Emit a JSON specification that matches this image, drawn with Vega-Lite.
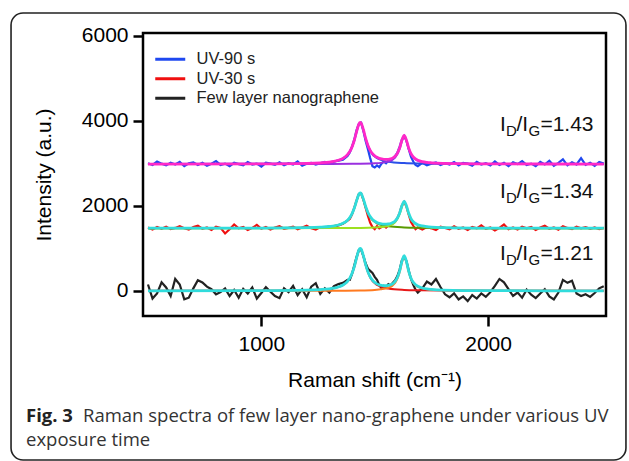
{
"$schema": "https://vega.github.io/schema/vega-lite/v6.json",
"width": 463, "height": 283,
"autosize": {"type": "none"},
"padding": {"left": 143, "top": 33, "right": 23, "bottom": 145},
"background": "white",
"config": {"view": {"stroke": "black", "strokeWidth": 2.5}},
"datasets": {
"raw": [
{"s":"UV-90 s","x":500,"y":3000},{"s":"UV-90 s","x":520,"y":2960},{"s":"UV-90 s","x":540,"y":3040},{"s":"UV-90 s","x":560,"y":2990},{"s":"UV-90 s","x":580,"y":2950},{"s":"UV-90 s","x":600,"y":3010},{"s":"UV-90 s","x":620,"y":2970},{"s":"UV-90 s","x":640,"y":3030},{"s":"UV-90 s","x":660,"y":2930},{"s":"UV-90 s","x":680,"y":3000},{"s":"UV-90 s","x":700,"y":3020},{"s":"UV-90 s","x":720,"y":2960},{"s":"UV-90 s","x":740,"y":3010},{"s":"UV-90 s","x":760,"y":2940},{"s":"UV-90 s","x":780,"y":2990},{"s":"UV-90 s","x":800,"y":3050},{"s":"UV-90 s","x":820,"y":2960},{"s":"UV-90 s","x":840,"y":2990},{"s":"UV-90 s","x":860,"y":2930},{"s":"UV-90 s","x":880,"y":3010},{"s":"UV-90 s","x":900,"y":2980},{"s":"UV-90 s","x":920,"y":2950},{"s":"UV-90 s","x":940,"y":3030},{"s":"UV-90 s","x":960,"y":2970},{"s":"UV-90 s","x":980,"y":2990},{"s":"UV-90 s","x":1000,"y":2920},{"s":"UV-90 s","x":1020,"y":3010},{"s":"UV-90 s","x":1040,"y":2990},{"s":"UV-90 s","x":1060,"y":2960},{"s":"UV-90 s","x":1080,"y":3020},{"s":"UV-90 s","x":1100,"y":2950},{"s":"UV-90 s","x":1120,"y":3000},{"s":"UV-90 s","x":1140,"y":2970},{"s":"UV-90 s","x":1160,"y":3040},{"s":"UV-90 s","x":1180,"y":2940},{"s":"UV-90 s","x":1200,"y":2990},{"s":"UV-90 s","x":1220,"y":3010},{"s":"UV-90 s","x":1240,"y":2970},{"s":"UV-90 s","x":1260,"y":3000},{"s":"UV-90 s","x":1280,"y":3030},{"s":"UV-90 s","x":1300,"y":2990},{"s":"UV-90 s","x":1320,"y":3040},{"s":"UV-90 s","x":1340,"y":3060},{"s":"UV-90 s","x":1360,"y":3080},{"s":"UV-90 s","x":1380,"y":3170},
{"s":"UV-90 s","x":1390,"y":3250},{"s":"UV-90 s","x":1400,"y":3390},{"s":"UV-90 s","x":1410,"y":3560},{"s":"UV-90 s","x":1420,"y":3780},{"s":"UV-90 s","x":1430,"y":3920},{"s":"UV-90 s","x":1440,"y":3950},{"s":"UV-90 s","x":1450,"y":3760},{"s":"UV-90 s","x":1460,"y":3520},{"s":"UV-90 s","x":1470,"y":3330},{"s":"UV-90 s","x":1480,"y":3120},{"s":"UV-90 s","x":1490,"y":2930},{"s":"UV-90 s","x":1500,"y":2900},{"s":"UV-90 s","x":1510,"y":2950},{"s":"UV-90 s","x":1520,"y":2910},{"s":"UV-90 s","x":1530,"y":2990},{"s":"UV-90 s","x":1540,"y":3040},{"s":"UV-90 s","x":1550,"y":3000},{"s":"UV-90 s","x":1560,"y":3060},{"s":"UV-90 s","x":1570,"y":3080},{"s":"UV-90 s","x":1580,"y":3110},{"s":"UV-90 s","x":1590,"y":3170},{"s":"UV-90 s","x":1600,"y":3250},{"s":"UV-90 s","x":1610,"y":3390},{"s":"UV-90 s","x":1620,"y":3560},{"s":"UV-90 s","x":1630,"y":3640},{"s":"UV-90 s","x":1640,"y":3530},{"s":"UV-90 s","x":1650,"y":3330},{"s":"UV-90 s","x":1660,"y":3150},{"s":"UV-90 s","x":1670,"y":3040},{"s":"UV-90 s","x":1680,"y":2960},{"s":"UV-90 s","x":1690,"y":2930},
{"s":"UV-90 s","x":1710,"y":3010},{"s":"UV-90 s","x":1730,"y":2950},{"s":"UV-90 s","x":1750,"y":2990},{"s":"UV-90 s","x":1770,"y":3020},{"s":"UV-90 s","x":1790,"y":2960},{"s":"UV-90 s","x":1810,"y":3000},{"s":"UV-90 s","x":1830,"y":2970},{"s":"UV-90 s","x":1850,"y":3030},{"s":"UV-90 s","x":1870,"y":2950},{"s":"UV-90 s","x":1890,"y":3010},{"s":"UV-90 s","x":1910,"y":2990},{"s":"UV-90 s","x":1930,"y":2940},{"s":"UV-90 s","x":1950,"y":3030},{"s":"UV-90 s","x":1970,"y":2970},{"s":"UV-90 s","x":1990,"y":3000},{"s":"UV-90 s","x":2010,"y":2950},{"s":"UV-90 s","x":2030,"y":3040},{"s":"UV-90 s","x":2050,"y":2960},{"s":"UV-90 s","x":2070,"y":3010},{"s":"UV-90 s","x":2090,"y":2930},{"s":"UV-90 s","x":2110,"y":3020},{"s":"UV-90 s","x":2130,"y":2980},{"s":"UV-90 s","x":2150,"y":3050},{"s":"UV-90 s","x":2170,"y":2960},{"s":"UV-90 s","x":2190,"y":2990},{"s":"UV-90 s","x":2210,"y":2930},{"s":"UV-90 s","x":2230,"y":3030},{"s":"UV-90 s","x":2250,"y":2970},{"s":"UV-90 s","x":2270,"y":3060},{"s":"UV-90 s","x":2290,"y":2940},{"s":"UV-90 s","x":2310,"y":3010},{"s":"UV-90 s","x":2330,"y":3090},{"s":"UV-90 s","x":2350,"y":2950},{"s":"UV-90 s","x":2370,"y":3020},{"s":"UV-90 s","x":2390,"y":2970},{"s":"UV-90 s","x":2410,"y":3120},{"s":"UV-90 s","x":2430,"y":2960},{"s":"UV-90 s","x":2450,"y":3010},{"s":"UV-90 s","x":2470,"y":2940},{"s":"UV-90 s","x":2490,"y":3030},{"s":"UV-90 s","x":2510,"y":2990},
{"s":"UV-30 s","x":500,"y":1490},{"s":"UV-30 s","x":520,"y":1440},{"s":"UV-30 s","x":540,"y":1500},{"s":"UV-30 s","x":560,"y":1460},{"s":"UV-30 s","x":580,"y":1510},{"s":"UV-30 s","x":600,"y":1450},{"s":"UV-30 s","x":620,"y":1480},{"s":"UV-30 s","x":640,"y":1520},{"s":"UV-30 s","x":660,"y":1470},{"s":"UV-30 s","x":680,"y":1440},{"s":"UV-30 s","x":700,"y":1500},{"s":"UV-30 s","x":720,"y":1530},{"s":"UV-30 s","x":740,"y":1460},{"s":"UV-30 s","x":760,"y":1490},{"s":"UV-30 s","x":780,"y":1430},{"s":"UV-30 s","x":800,"y":1510},{"s":"UV-30 s","x":820,"y":1480},{"s":"UV-30 s","x":840,"y":1350},{"s":"UV-30 s","x":860,"y":1450},{"s":"UV-30 s","x":880,"y":1560},{"s":"UV-30 s","x":900,"y":1470},{"s":"UV-30 s","x":920,"y":1500},{"s":"UV-30 s","x":940,"y":1430},{"s":"UV-30 s","x":960,"y":1480},{"s":"UV-30 s","x":980,"y":1550},{"s":"UV-30 s","x":1000,"y":1460},{"s":"UV-30 s","x":1020,"y":1500},{"s":"UV-30 s","x":1040,"y":1440},{"s":"UV-30 s","x":1060,"y":1490},{"s":"UV-30 s","x":1080,"y":1520},{"s":"UV-30 s","x":1100,"y":1460},{"s":"UV-30 s","x":1120,"y":1480},{"s":"UV-30 s","x":1140,"y":1510},{"s":"UV-30 s","x":1160,"y":1450},{"s":"UV-30 s","x":1180,"y":1490},{"s":"UV-30 s","x":1200,"y":1530},{"s":"UV-30 s","x":1220,"y":1470},{"s":"UV-30 s","x":1240,"y":1440},{"s":"UV-30 s","x":1260,"y":1500},{"s":"UV-30 s","x":1280,"y":1480},{"s":"UV-30 s","x":1300,"y":1520},{"s":"UV-30 s","x":1320,"y":1490},{"s":"UV-30 s","x":1340,"y":1540},{"s":"UV-30 s","x":1360,"y":1580},{"s":"UV-30 s","x":1380,"y":1650},
{"s":"UV-30 s","x":1390,"y":1690},{"s":"UV-30 s","x":1400,"y":1800},{"s":"UV-30 s","x":1410,"y":1960},{"s":"UV-30 s","x":1420,"y":2130},{"s":"UV-30 s","x":1430,"y":2280},{"s":"UV-30 s","x":1440,"y":2290},{"s":"UV-30 s","x":1450,"y":2140},{"s":"UV-30 s","x":1460,"y":1950},{"s":"UV-30 s","x":1470,"y":1760},{"s":"UV-30 s","x":1480,"y":1600},{"s":"UV-30 s","x":1490,"y":1500},{"s":"UV-30 s","x":1500,"y":1450},{"s":"UV-30 s","x":1510,"y":1520},{"s":"UV-30 s","x":1520,"y":1470},{"s":"UV-30 s","x":1530,"y":1500},{"s":"UV-30 s","x":1540,"y":1530},{"s":"UV-30 s","x":1550,"y":1490},{"s":"UV-30 s","x":1560,"y":1540},{"s":"UV-30 s","x":1570,"y":1560},{"s":"UV-30 s","x":1580,"y":1590},{"s":"UV-30 s","x":1590,"y":1630},{"s":"UV-30 s","x":1600,"y":1710},{"s":"UV-30 s","x":1610,"y":1840},{"s":"UV-30 s","x":1620,"y":2010},{"s":"UV-30 s","x":1630,"y":2090},{"s":"UV-30 s","x":1640,"y":1980},{"s":"UV-30 s","x":1650,"y":1790},{"s":"UV-30 s","x":1660,"y":1620},{"s":"UV-30 s","x":1670,"y":1530},{"s":"UV-30 s","x":1680,"y":1450},{"s":"UV-30 s","x":1690,"y":1490},
{"s":"UV-30 s","x":1710,"y":1440},{"s":"UV-30 s","x":1730,"y":1500},{"s":"UV-30 s","x":1750,"y":1470},{"s":"UV-30 s","x":1770,"y":1430},{"s":"UV-30 s","x":1790,"y":1510},{"s":"UV-30 s","x":1810,"y":1480},{"s":"UV-30 s","x":1830,"y":1450},{"s":"UV-30 s","x":1850,"y":1520},{"s":"UV-30 s","x":1870,"y":1460},{"s":"UV-30 s","x":1890,"y":1490},{"s":"UV-30 s","x":1910,"y":1430},{"s":"UV-30 s","x":1930,"y":1500},{"s":"UV-30 s","x":1950,"y":1470},{"s":"UV-30 s","x":1970,"y":1540},{"s":"UV-30 s","x":1990,"y":1460},{"s":"UV-30 s","x":2010,"y":1490},{"s":"UV-30 s","x":2030,"y":1420},{"s":"UV-30 s","x":2050,"y":1480},{"s":"UV-30 s","x":2070,"y":1560},{"s":"UV-30 s","x":2090,"y":1450},{"s":"UV-30 s","x":2110,"y":1490},{"s":"UV-30 s","x":2130,"y":1440},{"s":"UV-30 s","x":2150,"y":1510},{"s":"UV-30 s","x":2170,"y":1470},{"s":"UV-30 s","x":2190,"y":1500},{"s":"UV-30 s","x":2210,"y":1430},{"s":"UV-30 s","x":2230,"y":1490},{"s":"UV-30 s","x":2250,"y":1530},{"s":"UV-30 s","x":2270,"y":1460},{"s":"UV-30 s","x":2290,"y":1490},{"s":"UV-30 s","x":2310,"y":1440},{"s":"UV-30 s","x":2330,"y":1520},{"s":"UV-30 s","x":2350,"y":1480},{"s":"UV-30 s","x":2370,"y":1450},{"s":"UV-30 s","x":2390,"y":1510},{"s":"UV-30 s","x":2410,"y":1470},{"s":"UV-30 s","x":2430,"y":1500},{"s":"UV-30 s","x":2450,"y":1460},{"s":"UV-30 s","x":2470,"y":1490},{"s":"UV-30 s","x":2490,"y":1450},{"s":"UV-30 s","x":2510,"y":1480},
{"s":"Few layer nanographene","x":500,"y":150},{"s":"Few layer nanographene","x":520,"y":-180},{"s":"Few layer nanographene","x":540,"y":-60},{"s":"Few layer nanographene","x":560,"y":200},{"s":"Few layer nanographene","x":580,"y":80},{"s":"Few layer nanographene","x":600,"y":-120},{"s":"Few layer nanographene","x":620,"y":280},{"s":"Few layer nanographene","x":640,"y":150},{"s":"Few layer nanographene","x":660,"y":-200},{"s":"Few layer nanographene","x":680,"y":-160},{"s":"Few layer nanographene","x":700,"y":60},{"s":"Few layer nanographene","x":720,"y":250},{"s":"Few layer nanographene","x":740,"y":200},{"s":"Few layer nanographene","x":760,"y":100},{"s":"Few layer nanographene","x":780,"y":40},{"s":"Few layer nanographene","x":800,"y":-80},{"s":"Few layer nanographene","x":820,"y":-30},{"s":"Few layer nanographene","x":840,"y":60},{"s":"Few layer nanographene","x":860,"y":-120},{"s":"Few layer nanographene","x":880,"y":20},{"s":"Few layer nanographene","x":900,"y":-160},{"s":"Few layer nanographene","x":920,"y":50},{"s":"Few layer nanographene","x":940,"y":-60},{"s":"Few layer nanographene","x":960,"y":80},{"s":"Few layer nanographene","x":980,"y":-180},{"s":"Few layer nanographene","x":1000,"y":-50},{"s":"Few layer nanographene","x":1020,"y":90},{"s":"Few layer nanographene","x":1040,"y":-20},{"s":"Few layer nanographene","x":1060,"y":-120},{"s":"Few layer nanographene","x":1080,"y":-170},{"s":"Few layer nanographene","x":1100,"y":60},{"s":"Few layer nanographene","x":1120,"y":-30},{"s":"Few layer nanographene","x":1140,"y":120},{"s":"Few layer nanographene","x":1160,"y":-100},{"s":"Few layer nanographene","x":1180,"y":40},{"s":"Few layer nanographene","x":1200,"y":-150},{"s":"Few layer nanographene","x":1220,"y":100},{"s":"Few layer nanographene","x":1240,"y":180},{"s":"Few layer nanographene","x":1260,"y":-70},{"s":"Few layer nanographene","x":1280,"y":60},{"s":"Few layer nanographene","x":1300,"y":-40},{"s":"Few layer nanographene","x":1320,"y":110},{"s":"Few layer nanographene","x":1340,"y":160},{"s":"Few layer nanographene","x":1360,"y":190},{"s":"Few layer nanographene","x":1380,"y":260},
{"s":"Few layer nanographene","x":1390,"y":260},{"s":"Few layer nanographene","x":1400,"y":400},{"s":"Few layer nanographene","x":1410,"y":600},{"s":"Few layer nanographene","x":1420,"y":800},{"s":"Few layer nanographene","x":1430,"y":960},{"s":"Few layer nanographene","x":1440,"y":970},{"s":"Few layer nanographene","x":1450,"y":820},{"s":"Few layer nanographene","x":1460,"y":650},{"s":"Few layer nanographene","x":1470,"y":520},{"s":"Few layer nanographene","x":1480,"y":470},{"s":"Few layer nanographene","x":1490,"y":420},{"s":"Few layer nanographene","x":1500,"y":330},{"s":"Few layer nanographene","x":1510,"y":260},{"s":"Few layer nanographene","x":1520,"y":140},{"s":"Few layer nanographene","x":1530,"y":60},{"s":"Few layer nanographene","x":1540,"y":120},{"s":"Few layer nanographene","x":1550,"y":90},{"s":"Few layer nanographene","x":1560,"y":160},{"s":"Few layer nanographene","x":1570,"y":130},{"s":"Few layer nanographene","x":1580,"y":190},{"s":"Few layer nanographene","x":1590,"y":250},{"s":"Few layer nanographene","x":1600,"y":350},{"s":"Few layer nanographene","x":1610,"y":500},{"s":"Few layer nanographene","x":1620,"y":720},{"s":"Few layer nanographene","x":1630,"y":800},{"s":"Few layer nanographene","x":1640,"y":700},{"s":"Few layer nanographene","x":1650,"y":480},{"s":"Few layer nanographene","x":1660,"y":280},{"s":"Few layer nanographene","x":1670,"y":140},{"s":"Few layer nanographene","x":1680,"y":30},{"s":"Few layer nanographene","x":1690,"y":-40},
{"s":"Few layer nanographene","x":1710,"y":60},{"s":"Few layer nanographene","x":1730,"y":220},{"s":"Few layer nanographene","x":1750,"y":150},{"s":"Few layer nanographene","x":1770,"y":280},{"s":"Few layer nanographene","x":1790,"y":90},{"s":"Few layer nanographene","x":1810,"y":-80},{"s":"Few layer nanographene","x":1830,"y":-150},{"s":"Few layer nanographene","x":1850,"y":-60},{"s":"Few layer nanographene","x":1870,"y":-200},{"s":"Few layer nanographene","x":1890,"y":-130},{"s":"Few layer nanographene","x":1910,"y":-240},{"s":"Few layer nanographene","x":1930,"y":-100},{"s":"Few layer nanographene","x":1950,"y":-180},{"s":"Few layer nanographene","x":1970,"y":-60},{"s":"Few layer nanographene","x":1990,"y":-140},{"s":"Few layer nanographene","x":2010,"y":-30},{"s":"Few layer nanographene","x":2030,"y":120},{"s":"Few layer nanographene","x":2050,"y":280},{"s":"Few layer nanographene","x":2070,"y":200},{"s":"Few layer nanographene","x":2090,"y":40},{"s":"Few layer nanographene","x":2110,"y":-120},{"s":"Few layer nanographene","x":2130,"y":-40},{"s":"Few layer nanographene","x":2150,"y":-160},{"s":"Few layer nanographene","x":2170,"y":30},{"s":"Few layer nanographene","x":2190,"y":-90},{"s":"Few layer nanographene","x":2210,"y":-170},{"s":"Few layer nanographene","x":2230,"y":-60},{"s":"Few layer nanographene","x":2250,"y":40},{"s":"Few layer nanographene","x":2270,"y":-130},{"s":"Few layer nanographene","x":2290,"y":-200},{"s":"Few layer nanographene","x":2310,"y":-40},{"s":"Few layer nanographene","x":2330,"y":260},{"s":"Few layer nanographene","x":2350,"y":190},{"s":"Few layer nanographene","x":2370,"y":240},{"s":"Few layer nanographene","x":2390,"y":-60},{"s":"Few layer nanographene","x":2410,"y":-120},{"s":"Few layer nanographene","x":2430,"y":-80},{"s":"Few layer nanographene","x":2450,"y":-140},{"s":"Few layer nanographene","x":2470,"y":-50},{"s":"Few layer nanographene","x":2490,"y":60},{"s":"Few layer nanographene","x":2510,"y":110}
],
"comp": [
{"c":"90D","x":500,"y":2981},{"c":"90D","x":1000,"y":2985},{"c":"90D","x":1200,"y":2995},{"c":"90D","x":1300,"y":3025},{"c":"90D","x":1360,"y":3111},{"c":"90D","x":1390,"y":3269},{"c":"90D","x":1410,"y":3534},{"c":"90D","x":1420,"y":3736},{"c":"90D","x":1430,"y":3913},{"c":"90D","x":1436,"y":3950},{"c":"90D","x":1440,"y":3934},{"c":"90D","x":1450,"y":3776},{"c":"90D","x":1460,"y":3572},{"c":"90D","x":1480,"y":3287},{"c":"90D","x":1510,"y":3117},{"c":"90D","x":1560,"y":3034},{"c":"90D","x":1630,"y":3003},{"c":"90D","x":1700,"y":2992},{"c":"90D","x":1800,"y":2987},{"c":"90D","x":2000,"y":2983},{"c":"90D","x":2510,"y":2981},
{"c":"30D","x":500,"y":1473},{"c":"30D","x":1000,"y":1476},{"c":"30D","x":1200,"y":1485},{"c":"30D","x":1300,"y":1510},{"c":"30D","x":1360,"y":1583},{"c":"30D","x":1390,"y":1717},{"c":"30D","x":1410,"y":1941},{"c":"30D","x":1420,"y":2112},{"c":"30D","x":1430,"y":2263},{"c":"30D","x":1436,"y":2294},{"c":"30D","x":1440,"y":2280},{"c":"30D","x":1450,"y":2147},{"c":"30D","x":1460,"y":1973},{"c":"30D","x":1480,"y":1733},{"c":"30D","x":1510,"y":1588},{"c":"30D","x":1560,"y":1517},{"c":"30D","x":1630,"y":1491},{"c":"30D","x":1700,"y":1482},{"c":"30D","x":1800,"y":1478},{"c":"30D","x":2000,"y":1474},{"c":"30D","x":2510,"y":1473},
{"c":"0D","x":500,"y":1},{"c":"0D","x":1000,"y":5},{"c":"0D","x":1200,"y":16},{"c":"0D","x":1300,"y":46},{"c":"0D","x":1360,"y":133},{"c":"0D","x":1390,"y":294},{"c":"0D","x":1410,"y":563},{"c":"0D","x":1420,"y":768},{"c":"0D","x":1430,"y":949},{"c":"0D","x":1436,"y":986},{"c":"0D","x":1440,"y":969},{"c":"0D","x":1450,"y":810},{"c":"0D","x":1460,"y":601},{"c":"0D","x":1480,"y":313},{"c":"0D","x":1510,"y":139},{"c":"0D","x":1560,"y":55},{"c":"0D","x":1630,"y":23},{"c":"0D","x":1700,"y":13},{"c":"0D","x":1800,"y":7},{"c":"0D","x":2000,"y":3},{"c":"0D","x":2510,"y":1},
{"c":"90G","x":500,"y":2980},{"c":"90G","x":1000,"y":2981},{"c":"90G","x":1300,"y":2983},{"c":"90G","x":1436,"y":2988},{"c":"90G","x":1500,"y":2998},{"c":"90G","x":1560,"y":3038},{"c":"90G","x":1590,"y":3131},{"c":"90G","x":1610,"y":3336},{"c":"90G","x":1620,"y":3519},{"c":"90G","x":1630,"y":3630},{"c":"90G","x":1640,"y":3519},{"c":"90G","x":1650,"y":3336},{"c":"90G","x":1670,"y":3131},{"c":"90G","x":1700,"y":3038},{"c":"90G","x":1750,"y":3001},{"c":"90G","x":1800,"y":2991},{"c":"90G","x":2000,"y":2982},{"c":"90G","x":2510,"y":2980},
{"c":"30G","x":500,"y":1472},{"c":"30G","x":1000,"y":1473},{"c":"30G","x":1300,"y":1475},{"c":"30G","x":1436,"y":1480},{"c":"30G","x":1500,"y":1489},{"c":"30G","x":1560,"y":1527},{"c":"30G","x":1590,"y":1614},{"c":"30G","x":1610,"y":1807},{"c":"30G","x":1620,"y":1979},{"c":"30G","x":1630,"y":2083},{"c":"30G","x":1640,"y":1979},{"c":"30G","x":1650,"y":1807},{"c":"30G","x":1670,"y":1614},{"c":"30G","x":1700,"y":1527},{"c":"30G","x":1750,"y":1492},{"c":"30G","x":1800,"y":1482},{"c":"30G","x":2000,"y":1474},{"c":"30G","x":2510,"y":1472},
{"c":"0G","x":500,"y":0},{"c":"0G","x":1000,"y":1},{"c":"0G","x":1300,"y":4},{"c":"0G","x":1436,"y":10},{"c":"0G","x":1500,"y":22},{"c":"0G","x":1560,"y":72},{"c":"0G","x":1590,"y":187},{"c":"0G","x":1610,"y":442},{"c":"0G","x":1620,"y":668},{"c":"0G","x":1630,"y":806},{"c":"0G","x":1640,"y":668},{"c":"0G","x":1650,"y":442},{"c":"0G","x":1670,"y":187},{"c":"0G","x":1700,"y":72},{"c":"0G","x":1750,"y":26},{"c":"0G","x":1800,"y":13},{"c":"0G","x":2000,"y":3},{"c":"0G","x":2510,"y":0}
],
"fit": [
{"f":"UV-90 s","x":500,"y":2981},{"f":"UV-90 s","x":1000,"y":2985},{"f":"UV-90 s","x":1200,"y":2997},{"f":"UV-90 s","x":1260,"y":3010},{"f":"UV-90 s","x":1300,"y":3028},{"f":"UV-90 s","x":1340,"y":3070},{"f":"UV-90 s","x":1360,"y":3115},{"f":"UV-90 s","x":1380,"y":3201},{"f":"UV-90 s","x":1390,"y":3274},{"f":"UV-90 s","x":1400,"y":3384},{"f":"UV-90 s","x":1410,"y":3540},{"f":"UV-90 s","x":1420,"y":3743},{"f":"UV-90 s","x":1430,"y":3921},{"f":"UV-90 s","x":1436,"y":3958},{"f":"UV-90 s","x":1440,"y":3942},{"f":"UV-90 s","x":1450,"y":3786},{"f":"UV-90 s","x":1460,"y":3583},{"f":"UV-90 s","x":1470,"y":3417},{"f":"UV-90 s","x":1480,"y":3301},{"f":"UV-90 s","x":1490,"y":3225},{"f":"UV-90 s","x":1500,"y":3173},{"f":"UV-90 s","x":1510,"y":3138},{"f":"UV-90 s","x":1520,"y":3115},{"f":"UV-90 s","x":1530,"y":3100},{"f":"UV-90 s","x":1540,"y":3091},{"f":"UV-90 s","x":1550,"y":3089},{"f":"UV-90 s","x":1560,"y":3092},{"f":"UV-90 s","x":1570,"y":3103},{"f":"UV-90 s","x":1580,"y":3126},{"f":"UV-90 s","x":1590,"y":3166},{"f":"UV-90 s","x":1600,"y":3239},{"f":"UV-90 s","x":1610,"y":3364},{"f":"UV-90 s","x":1620,"y":3544},{"f":"UV-90 s","x":1630,"y":3653},{"f":"UV-90 s","x":1640,"y":3540},{"f":"UV-90 s","x":1650,"y":3355},{"f":"UV-90 s","x":1660,"y":3225},{"f":"UV-90 s","x":1670,"y":3147},{"f":"UV-90 s","x":1680,"y":3100},{"f":"UV-90 s","x":1690,"y":3070},{"f":"UV-90 s","x":1710,"y":3037},{"f":"UV-90 s","x":1730,"y":3020},{"f":"UV-90 s","x":1750,"y":3010},{"f":"UV-90 s","x":1800,"y":2997},{"f":"UV-90 s","x":2000,"y":2985},{"f":"UV-90 s","x":2510,"y":2981},
{"f":"UV-30 s","x":500,"y":1473},{"f":"UV-30 s","x":1000,"y":1477},{"f":"UV-30 s","x":1200,"y":1487},{"f":"UV-30 s","x":1260,"y":1497},{"f":"UV-30 s","x":1300,"y":1513},{"f":"UV-30 s","x":1340,"y":1549},{"f":"UV-30 s","x":1360,"y":1587},{"f":"UV-30 s","x":1380,"y":1660},{"f":"UV-30 s","x":1390,"y":1722},{"f":"UV-30 s","x":1400,"y":1815},{"f":"UV-30 s","x":1410,"y":1947},{"f":"UV-30 s","x":1420,"y":2119},{"f":"UV-30 s","x":1430,"y":2270},{"f":"UV-30 s","x":1436,"y":2302},{"f":"UV-30 s","x":1440,"y":2288},{"f":"UV-30 s","x":1450,"y":2156},{"f":"UV-30 s","x":1460,"y":1983},{"f":"UV-30 s","x":1470,"y":1843},{"f":"UV-30 s","x":1480,"y":1746},{"f":"UV-30 s","x":1490,"y":1681},{"f":"UV-30 s","x":1500,"y":1637},{"f":"UV-30 s","x":1510,"y":1608},{"f":"UV-30 s","x":1520,"y":1588},{"f":"UV-30 s","x":1530,"y":1576},{"f":"UV-30 s","x":1540,"y":1570},{"f":"UV-30 s","x":1550,"y":1568},{"f":"UV-30 s","x":1560,"y":1572},{"f":"UV-30 s","x":1570,"y":1583},{"f":"UV-30 s","x":1580,"y":1605},{"f":"UV-30 s","x":1590,"y":1644},{"f":"UV-30 s","x":1600,"y":1713},{"f":"UV-30 s","x":1610,"y":1831},{"f":"UV-30 s","x":1620,"y":2000},{"f":"UV-30 s","x":1630,"y":2102},{"f":"UV-30 s","x":1640,"y":1996},{"f":"UV-30 s","x":1650,"y":1823},{"f":"UV-30 s","x":1660,"y":1700},{"f":"UV-30 s","x":1670,"y":1627},{"f":"UV-30 s","x":1680,"y":1583},{"f":"UV-30 s","x":1690,"y":1555},{"f":"UV-30 s","x":1710,"y":1525},{"f":"UV-30 s","x":1730,"y":1509},{"f":"UV-30 s","x":1750,"y":1499},{"f":"UV-30 s","x":1800,"y":1488},{"f":"UV-30 s","x":2000,"y":1477},{"f":"UV-30 s","x":2510,"y":1473},
{"f":"Few layer nanographene","x":500,"y":1},{"f":"Few layer nanographene","x":1000,"y":6},{"f":"Few layer nanographene","x":1200,"y":18},{"f":"Few layer nanographene","x":1260,"y":31},{"f":"Few layer nanographene","x":1300,"y":49},{"f":"Few layer nanographene","x":1340,"y":92},{"f":"Few layer nanographene","x":1360,"y":138},{"f":"Few layer nanographene","x":1380,"y":226},{"f":"Few layer nanographene","x":1390,"y":300},{"f":"Few layer nanographene","x":1400,"y":412},{"f":"Few layer nanographene","x":1410,"y":571},{"f":"Few layer nanographene","x":1420,"y":777},{"f":"Few layer nanographene","x":1430,"y":958},{"f":"Few layer nanographene","x":1436,"y":996},{"f":"Few layer nanographene","x":1440,"y":980},{"f":"Few layer nanographene","x":1450,"y":822},{"f":"Few layer nanographene","x":1460,"y":615},{"f":"Few layer nanographene","x":1470,"y":447},{"f":"Few layer nanographene","x":1480,"y":330},{"f":"Few layer nanographene","x":1490,"y":252},{"f":"Few layer nanographene","x":1500,"y":200},{"f":"Few layer nanographene","x":1510,"y":165},{"f":"Few layer nanographene","x":1520,"y":142},{"f":"Few layer nanographene","x":1530,"y":128},{"f":"Few layer nanographene","x":1540,"y":121},{"f":"Few layer nanographene","x":1550,"y":121},{"f":"Few layer nanographene","x":1560,"y":127},{"f":"Few layer nanographene","x":1570,"y":143},{"f":"Few layer nanographene","x":1580,"y":172},{"f":"Few layer nanographene","x":1590,"y":223},{"f":"Few layer nanographene","x":1600,"y":314},{"f":"Few layer nanographene","x":1610,"y":470},{"f":"Few layer nanographene","x":1620,"y":694},{"f":"Few layer nanographene","x":1630,"y":829},{"f":"Few layer nanographene","x":1640,"y":689},{"f":"Few layer nanographene","x":1650,"y":461},{"f":"Few layer nanographene","x":1660,"y":299},{"f":"Few layer nanographene","x":1670,"y":203},{"f":"Few layer nanographene","x":1680,"y":145},{"f":"Few layer nanographene","x":1690,"y":109},{"f":"Few layer nanographene","x":1710,"y":68},{"f":"Few layer nanographene","x":1730,"y":47},{"f":"Few layer nanographene","x":1750,"y":35},{"f":"Few layer nanographene","x":1800,"y":20},{"f":"Few layer nanographene","x":2000,"y":6},{"f":"Few layer nanographene","x":2510,"y":1}
],
"labels": [
{"x":2052,"y":3757,"r":"=1.43"},
{"x":2052,"y":2183,"r":"=1.34"},
{"x":2052,"y":726,"r":"=1.21"}
]
},
"layer": [
{
"data": {"name": "raw"},
"mark": {"type": "line", "strokeWidth": 2.2},
"encoding": {
"x": {"field": "x", "type": "quantitative",
 "scale": {"domain": [478, 2520], "nice": false, "zero": false},
 "axis": {"values": [1000, 2000], "format": "d", "title": "Raman shift (cm⁻¹)", "grid": false, "domain": false,
  "tickSize": 10, "tickWidth": 2.5, "tickColor": "black", "labelFont": "Arial", "labelFontSize": 21, "labelColor": "black", "labelPadding": 7,
  "titleFont": "Arial", "titleFontSize": 21, "titleFontWeight": "normal", "titleColor": "black", "titlePadding": 15}},
"y": {"field": "y", "type": "quantitative",
 "scale": {"domain": [-590, 6060], "nice": false, "zero": false},
 "axis": {"values": [0, 2000, 4000, 6000], "format": "d", "title": "Intensity (a.u.)", "grid": false, "domain": false,
  "tickSize": 10, "tickWidth": 2.5, "tickColor": "black", "labelFont": "Arial", "labelFontSize": 21, "labelColor": "black", "labelPadding": 5,
  "titleFont": "Arial", "titleFontSize": 21, "titleFontWeight": "normal", "titleColor": "black", "titlePadding": 27}},
"color": {"field": "s", "type": "nominal",
 "scale": {"domain": ["UV-90 s", "UV-30 s", "Few layer nanographene"], "range": ["#1f48f0", "#f01010", "#222222"]},
 "legend": {"orient": "none", "legendX": 19, "legendY": 18, "title": null, "symbolType": "M-3,0H3", "symbolStrokeWidth": 3, "symbolSize": 100,
  "labelFont": "Arial", "labelFontSize": 16.5, "labelColor": "#222", "rowPadding": 2.5, "labelOffset": 18, "labelLimit": 400}}
}
},
{
"data": {"name": "comp"},
"mark": {"type": "line", "strokeWidth": 2, "interpolate": "monotone"},
"encoding": {
"x": {"field": "x", "type": "quantitative"},
"y": {"field": "y", "type": "quantitative"},
"color": {"field": "c", "type": "nominal", "legend": null,
 "scale": {"domain": ["90D", "30D", "0D", "90G", "30G", "0G"], "range": ["#2a50e8", "#5a9a00", "#e81818", "#9a30e0", "#9de020", "#ff7a20"]}},
"order": {"field": "x", "type": "quantitative"}
}
},
{
"data": {"name": "fit"},
"mark": {"type": "line", "strokeWidth": 2.8, "interpolate": "monotone"},
"encoding": {
"x": {"field": "x", "type": "quantitative"},
"y": {"field": "y", "type": "quantitative"},
"color": {"field": "f", "type": "nominal", "legend": null,
 "scale": {"domain": ["UV-90 s", "UV-30 s", "Few layer nanographene"], "range": ["#ff28c8", "#30dcdc", "#30dcdc"]}}
}
},
{
"data": {"name": "labels"},
"mark": {"type": "text", "text": "I", "font": "Arial", "fontSize": 21, "align": "left", "baseline": "alphabetic", "color": "#111", "dx": 0},
"encoding": {"x": {"field": "x", "type": "quantitative"}, "y": {"field": "y", "type": "quantitative"}}
},
{
"data": {"name": "labels"},
"mark": {"type": "text", "text": "D", "font": "Arial", "fontSize": 15, "align": "left", "baseline": "alphabetic", "color": "#111", "dx": 6, "dy": 5},
"encoding": {"x": {"field": "x", "type": "quantitative"}, "y": {"field": "y", "type": "quantitative"}}
},
{
"data": {"name": "labels"},
"mark": {"type": "text", "text": "/I", "font": "Arial", "fontSize": 21, "align": "left", "baseline": "alphabetic", "color": "#111", "dx": 16.5},
"encoding": {"x": {"field": "x", "type": "quantitative"}, "y": {"field": "y", "type": "quantitative"}}
},
{
"data": {"name": "labels"},
"mark": {"type": "text", "text": "G", "font": "Arial", "fontSize": 15, "align": "left", "baseline": "alphabetic", "color": "#111", "dx": 28.5, "dy": 5},
"encoding": {"x": {"field": "x", "type": "quantitative"}, "y": {"field": "y", "type": "quantitative"}}
},
{
"data": {"name": "labels"},
"mark": {"type": "text", "font": "Arial", "fontSize": 21, "align": "left", "baseline": "alphabetic", "color": "#111", "dx": 40.5},
"encoding": {"x": {"field": "x", "type": "quantitative"}, "y": {"field": "y", "type": "quantitative"}, "text": {"field": "r"}}
},
{
"data": {"values": [{}]},
"mark": {"type": "rect", "fill": null, "fillOpacity": 0, "stroke": "#222", "strokeWidth": 1.6, "cornerRadius": 12},
"encoding": {"x": {"datum": -104}, "x2": {"datum": 2608}, "y": {"datum": 6530}, "y2": {"datum": -3974}}
},
{
"data": {"values": [{}]},
"mark": {"type": "text", "text": "Fig. 3", "font": "Open Sans", "fontSize": 18.5, "fontWeight": "bold", "align": "left", "baseline": "alphabetic", "color": "#222"},
"encoding": {"x": {"datum": -38}, "y": {"datum": -3081}}
},
{
"data": {"values": [{}]},
"mark": {"type": "text", "text": "Raman spectra of few layer nano-graphene under various UV", "font": "Open Sans", "fontSize": 18.5, "align": "left", "baseline": "alphabetic", "color": "#333", "dx": 57},
"encoding": {"x": {"datum": -38}, "y": {"datum": -3081}}
},
{
"data": {"values": [{}]},
"mark": {"type": "text", "text": "exposure time", "font": "Open Sans", "fontSize": 18.5, "align": "left", "baseline": "alphabetic", "color": "#333"},
"encoding": {"x": {"datum": -38}, "y": {"datum": -3645}}
}
],
"resolve": {"scale": {"color": "independent"}}
}
